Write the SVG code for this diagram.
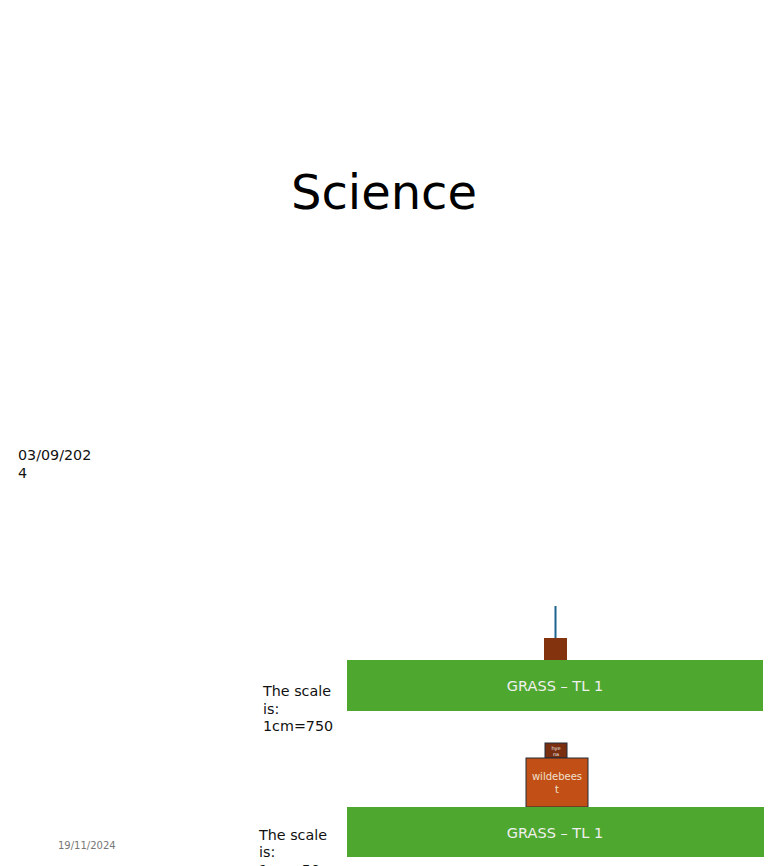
<svg xmlns="http://www.w3.org/2000/svg" width="768" height="866" viewBox="0 0 768 866">
<style>
text{font-family:"DejaVu Sans","Liberation Sans",sans-serif}
.grass{fill:#4ea72e}
.gl{fill:#f0f0f0;font-size:14.5px;text-anchor:middle}
.lbl{fill:#111;font-size:14.3px}
</style>
<rect width="768" height="866" fill="#fff"/>
<text x="384" y="209" font-size="48" text-anchor="middle" fill="#000">Science</text>
<text class="lbl" x="18" y="460">03/09/202</text>
<text class="lbl" x="18" y="478">4</text>
<g id="pyramid1">
<line x1="555.5" y1="606" x2="555.5" y2="638" stroke="#1f6391" stroke-width="2"/>
<rect x="544" y="638" width="23" height="22" fill="#84330f"/>
<rect class="grass" x="347" y="660" width="416" height="51"/>
<text class="gl" x="555" y="691">GRASS – TL 1</text>
</g>
<g id="scale1">
<text class="lbl" x="263" y="696">The scale</text>
<text class="lbl" x="263" y="714">is:</text>
<text class="lbl" x="263" y="731">1cm=750</text>
</g>
<g id="pyramid2">
<rect x="545" y="743" width="22" height="15" fill="#7a3010" stroke="#222c38" stroke-width="1"/>
<text x="556" y="749.5" font-size="5" fill="#eee" text-anchor="middle">hye</text>
<text x="556" y="756" font-size="5" fill="#eee" text-anchor="middle">na</text>
<rect x="526" y="758" width="62" height="49" fill="#c24f15" stroke="#222c38" stroke-width="1"/>
<text x="557" y="780" font-size="10" fill="#f0e0d0" text-anchor="middle">wildebees</text>
<text x="557" y="793" font-size="10" fill="#f0e0d0" text-anchor="middle">t</text>
<rect class="grass" x="347" y="807" width="417" height="50"/>
<text class="gl" x="555" y="838">GRASS – TL 1</text>
</g>
<g id="scale2">
<text class="lbl" x="259" y="840">The scale</text>
<text class="lbl" x="259" y="857">is:</text>
<text class="lbl" x="259" y="875">1cm=50</text>
</g>
<text x="58" y="849" font-size="10" fill="#777">19/11/2024</text>
</svg>
